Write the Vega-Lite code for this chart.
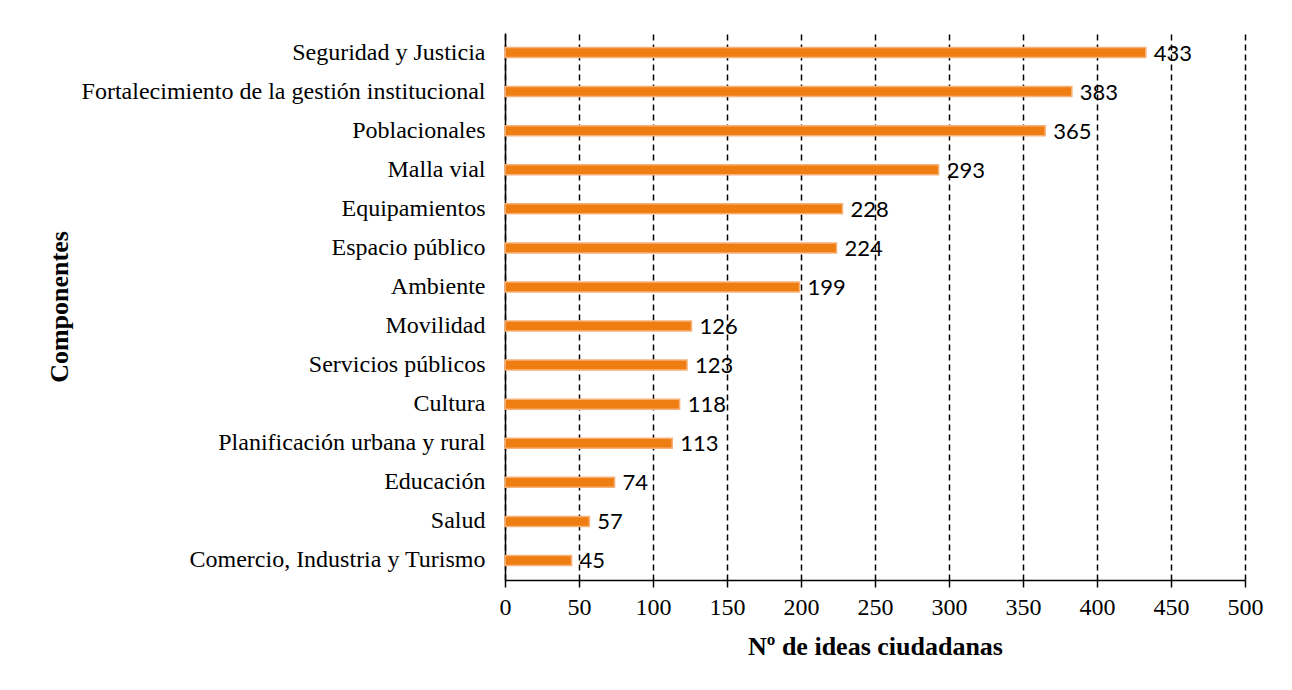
{
  "$schema": "https://vega.github.io/schema/vega-lite/v6.json",
  "autosize": {"type": "none"},
  "width": 740,
  "height": 547,
  "padding": {"left": 505, "top": 33, "right": 47, "bottom": 110},
  "background": "white",
  "config": {"view": {"stroke": null}},
  "data": {"values": [
    {"componente": "Seguridad y Justicia", "ideas": 433},
    {"componente": "Fortalecimiento de la gestión institucional", "ideas": 383},
    {"componente": "Poblacionales", "ideas": 365},
    {"componente": "Malla vial", "ideas": 293},
    {"componente": "Equipamientos", "ideas": 228},
    {"componente": "Espacio público", "ideas": 224},
    {"componente": "Ambiente", "ideas": 199},
    {"componente": "Movilidad", "ideas": 126},
    {"componente": "Servicios públicos", "ideas": 123},
    {"componente": "Cultura", "ideas": 118},
    {"componente": "Planificación urbana y rural", "ideas": 113},
    {"componente": "Educación", "ideas": 74},
    {"componente": "Salud", "ideas": 57},
    {"componente": "Comercio, Industria y Turismo", "ideas": 45}
  ]},
  "encoding": {
    "y": {
      "field": "componente", "type": "nominal", "sort": "-x",
      "scale": {"paddingInner": 0, "paddingOuter": 0},
      "axis": {
        "title": "Componentes", "titleFont": "Liberation Serif", "titleFontSize": 26, "titleFontWeight": "bold",
        "titleColor": "black", "titleX": -433,
        "labelFont": "Liberation Serif", "labelFontSize": 24, "labelColor": "black", "labelPadding": 20,
        "labelLimit": 500, "ticks": false, "domainColor": "black", "domainWidth": 1.5, "grid": false
      }
    },
    "x": {
      "field": "ideas", "type": "quantitative",
      "scale": {"domain": [0, 500], "nice": false},
      "axis": {
        "title": "Nº de ideas ciudadanas", "titleFont": "Liberation Serif", "titleFontSize": 26, "titleFontWeight": "bold",
        "titleColor": "black", "titlePadding": 14,
        "values": [0, 50, 100, 150, 200, 250, 300, 350, 400, 450, 500],
        "labelFont": "Liberation Serif", "labelFontSize": 24, "labelColor": "black", "labelPadding": 8, "labelFlush": false,
        "tickColor": "black", "tickSize": 7, "tickWidth": 1.5, "domainColor": "black", "domainWidth": 1.5,
        "grid": true, "gridColor": "black", "gridDash": [6, 4], "gridWidth": 1.5
      }
    }
  },
  "layer": [
    {
      "mark": {"type": "bar", "size": 10, "color": "#EF7E12", "stroke": "#F7B27A", "strokeWidth": 1.5}
    },
    {
      "mark": {"type": "text", "align": "left", "baseline": "middle", "dx": 8, "dy": 1, "font": "Lato", "fontSize": 22, "color": "black"},
      "encoding": {"text": {"field": "ideas", "type": "quantitative"}}
    }
  ]
}
